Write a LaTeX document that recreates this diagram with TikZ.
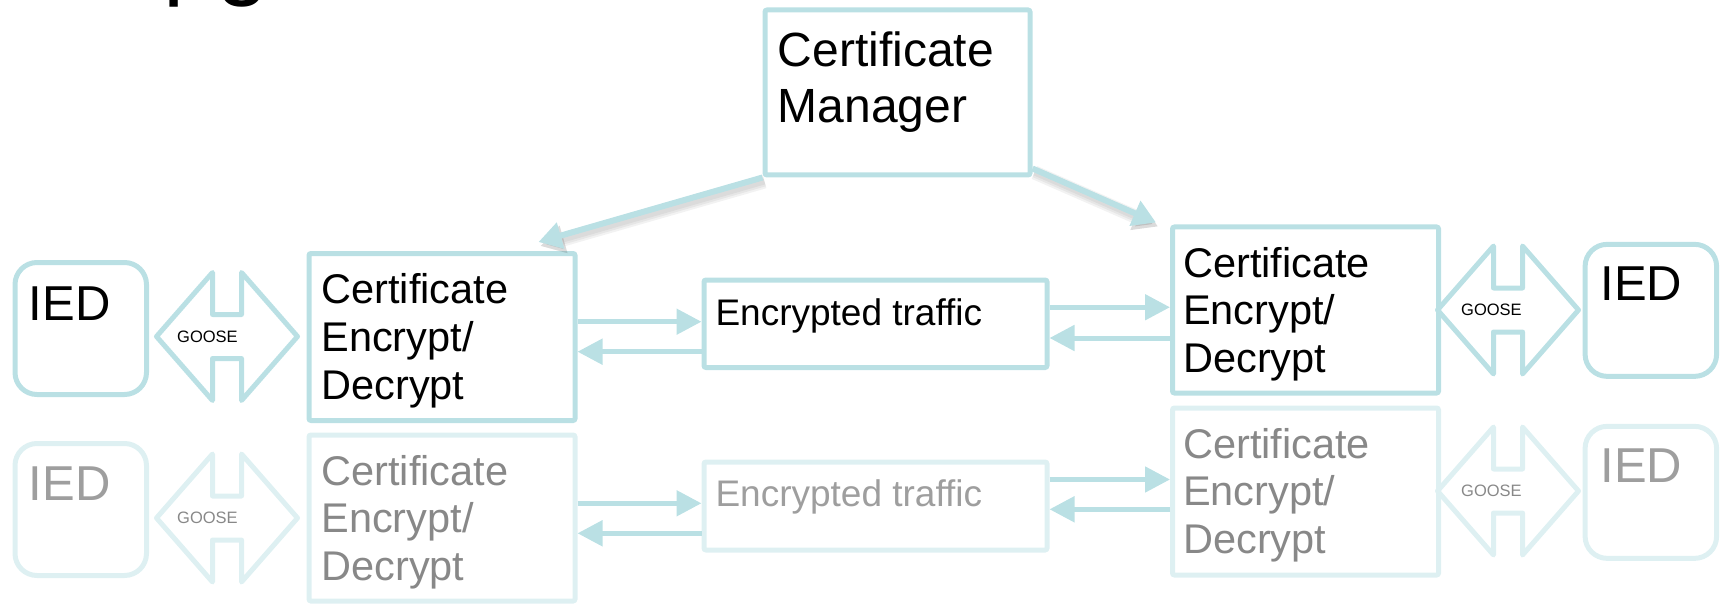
\documentclass[tikz,border=0pt]{standalone}
\usepackage{fontspec}
\setmainfont{Liberation Sans}
\usetikzlibrary{arrows.meta}
\definecolor{linkteal}{RGB}{186,224,228}
\definecolor{paleteal}{RGB}{222,240,242}
\definecolor{greyA}{RGB}{136,136,136}
\definecolor{greyB}{RGB}{158,158,158}
\newcommand{\fsz}[2]{\fontsize{#1}{#2}\selectfont}
\tikzset{
  goosearrow/.pic={
    \draw[line width=5pt, line join=round, draw=#1]
      (-70.5,0) -- (-14.5,-64) -- (-14.5,-22) -- (14.5,-22) -- (14.5,-64)
      -- (70.5,0) -- (14.5,64) -- (14.5,22) -- (-14.5,22) -- (-14.5,64) -- cycle;
  }
}
\begin{document}
\begin{tikzpicture}[x=1pt, y=-1pt,
  box/.style={draw=linkteal, line width=5pt, rounded corners=2pt, inner sep=0pt},
  palebox/.style={box, draw=paleteal},
  cedsize/.style={minimum width=266pt, minimum height=166pt},
  etsize/.style={minimum width=343pt, minimum height=88pt},
  iedsize/.style={rounded corners=22pt, minimum width=131.5pt, minimum height=132pt},
  flow/.style={draw=linkteal, line width=5pt, -{Triangle[length=25pt,width=25pt]}},
  feed/.style={draw=linkteal, line width=6pt, -{Triangle[length=23pt,width=26pt]}},
  softshadow/.style={draw=black!70, line width=#1, opacity=0.07, -{Triangle[length=24pt,width=27pt]}},
  txt/.style={inner sep=0pt, anchor=base west, align=left},
  bigtxt/.style={txt, font=\fsz{49}{56}},
  cmtxt/.style={txt, font=\fsz{48}{56.5}},
  cedtxt/.style={txt, font=\fsz{41.5}{47.9}},
  ettxt/.style={txt, font=\fsz{37}{42}},
  goosetxt/.style={txt, font=\fsz{16.5}{18}}
]
\useasboundingbox (0,0) rectangle (1721,604);

% heading, only its descenders fall inside the page
\node[anchor=base west, inner sep=0pt, font=\fsz{95}{100}] (title) at (163.7,-12.5) {pg};

% certificate manager
\node[box, minimum width=265pt, minimum height=165pt] (cm) at (897.5,92.5) {};
% multi-line labels are placed by the baseline of their last line
\node[cmtxt] (cmtext) at (777.6,122.6) {Certificate\\Manager};

% active link
\node[box, iedsize] (ied1l) at (80.75,328.5) {};
\node[box, cedsize, minimum height=167pt] (l1) at (442,337) {};
\node[box, etsize, minimum height=87.5pt] (et1) at (875.5,323.75) {};
\node[box, cedsize] (r1) at (1305.5,310) {};
\node[box, iedsize] (ied1r) at (1650.85,310.35) {};

% standby link
\node[palebox, iedsize] (ied2l) at (80.75,509.5) {};
\node[palebox, cedsize] (l2) at (442,518) {};
\node[palebox, etsize] (et2) at (875.5,506) {};
\node[palebox, cedsize, minimum height=167pt] (r2) at (1305.5,491.5) {};
\node[palebox, iedsize] (ied2r) at (1650.85,492.35) {};

% GOOSE exchanges
\pic at (227,336.5) {goosearrow=linkteal};
\pic at (1508,310) {goosearrow=linkteal};
\pic at (227,518) {goosearrow=paleteal};
\pic at (1508,491) {goosearrow=paleteal};

% labels
\node[bigtxt] (ied1ltext) at (28.7,320) {IED};
\node[bigtxt] (ied1rtext) at (1600.4,300.7) {IED};
\node[bigtxt, text=greyB] (ied2ltext) at (28.7,500.7) {IED};
\node[bigtxt, text=greyB] (ied2rtext) at (1600.4,482.7) {IED};
\node[cedtxt] (l1text) at (321.2,399.3) {Certificate\\Encrypt/\\Decrypt};
\node[cedtxt] (r1text) at (1183,372.8) {Certificate\\Encrypt/\\Decrypt};
\node[cedtxt, text=greyA] (l2text) at (321.2,580.8) {Certificate\\Encrypt/\\Decrypt};
\node[cedtxt, text=greyA] (r2text) at (1183,553.8) {Certificate\\Encrypt/\\Decrypt};
\node[ettxt] (et1text) at (715.3,325) {Encrypted traffic};
\node[ettxt, text=greyB] (et2text) at (715.3,506.7) {Encrypted traffic};
\node[goosetxt] (g1l) at (177,342) {GOOSE};
\node[goosetxt] (g1r) at (1461,315) {GOOSE};
\node[goosetxt, text=greyA] (g2l) at (177,523) {GOOSE};
\node[goosetxt, text=greyA] (g2r) at (1461,496) {GOOSE};

% traffic arrows, active link
\path (l1.east) ++(0,-15.3) coordinate (a1);
\path (et1.west) ++(0,27.95) coordinate (a2);
\path (et1.east) ++(0,-16.5) coordinate (a3);
\path (r1.west) ++(0,28) coordinate (a4);
\draw[flow] (a1) -- (a1 -| et1.west);
\draw[flow] (a2) -- (a2 -| l1.east);
\draw[flow] (a3) -- (a3 -| r1.west);
\draw[flow] (a4) -- (a4 -| et1.east);

% traffic arrows, standby link
\path (l2.east) ++(0,-14.7) coordinate (a5);
\path (et2.west) ++(0,27.3) coordinate (a6);
\path (et2.east) ++(0,-26.5) coordinate (a7);
\path (r2.west) ++(0,17.8) coordinate (a8);
\draw[flow] (a5) -- (a5 -| et2.west);
\draw[flow] (a6) -- (a6 -| l2.east);
\draw[flow] (a7) -- (a7 -| r2.west);
\draw[flow] (a8) -- (a8 -| et2.east);

% certificate distribution, with a soft shadow below
\begin{scope}[transform canvas={shift={(2pt,-4pt)}}]
  \foreach \w in {14pt,10pt,6pt} {
    \draw[softshadow=\w] (cm.south west) -- ([shift={(-39,-9)}]l1.north east);
    \draw[softshadow=\w] ([yshift=9pt]cm.south east) -- ([shift={(-14,-2)}]r1.north west);
  }
\end{scope}
\draw[feed] (cm.south west) -- ([shift={(-39,-9)}]l1.north east);
\draw[feed] ([yshift=9pt]cm.south east) -- ([shift={(-14,-2)}]r1.north west);
\end{tikzpicture}
\end{document}
